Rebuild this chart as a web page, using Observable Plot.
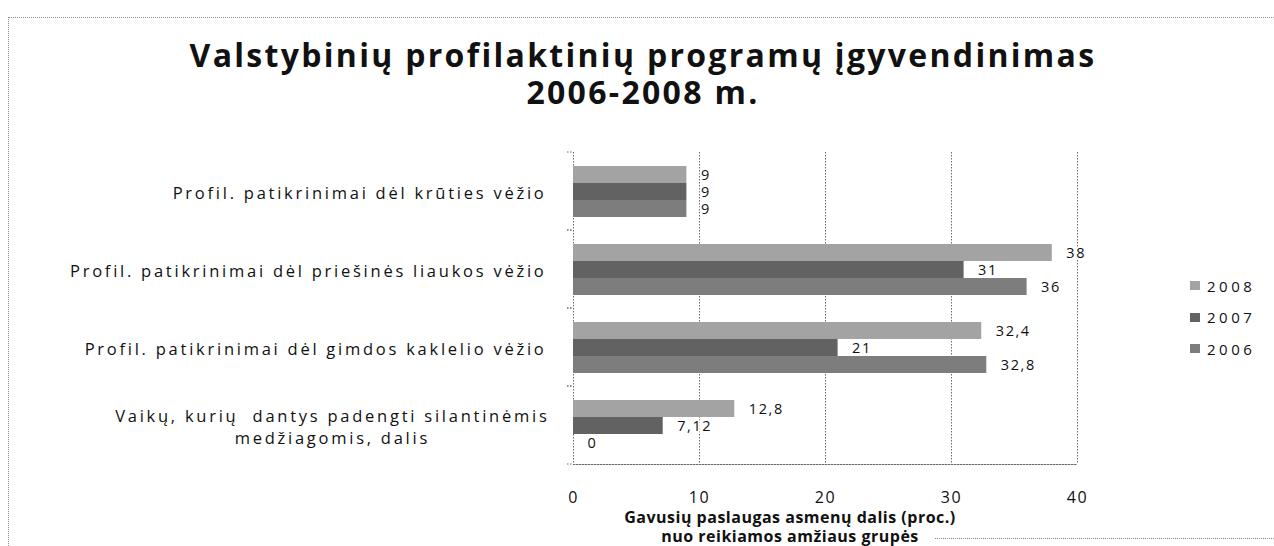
<!DOCTYPE html>
<html><head><meta charset="utf-8">
<script src="https://cdn.jsdelivr.net/npm/d3@7"></script>
<script src="https://cdn.jsdelivr.net/npm/@observablehq/plot@0.6"></script>
<style>
body{margin:0;background:#fff;}
#wrap{position:relative;width:1274px;height:546px;overflow:hidden;font-family:"Open Sans",sans-serif;color:#111;}
.t{position:absolute;left:0;top:36px;width:1286px;text-align:center;font-weight:700;font-size:32px;letter-spacing:2.3px;line-height:37px;white-space:nowrap;}
.xt{position:absolute;left:590px;top:508px;width:400px;text-align:center;font-weight:700;font-size:16px;letter-spacing:0.5px;line-height:19px;white-space:nowrap;}
#legend{position:absolute;left:1190px;top:270px;font-size:15px;letter-spacing:3.5px;}
#legend div{height:31.5px;line-height:20px;display:flex;align-items:center;}
#legend span.sw{display:inline-block;width:10px;height:9px;margin-right:7px;}
.bd{position:absolute;border-color:#8a8a8a;border-style:dotted;border-width:0;}
#chart{position:absolute;left:0;top:0;}
#chart svg text{letter-spacing:1.6px;}
#chart svg g.fyax text{letter-spacing:2.75px;}
</style></head><body>
<div id="wrap">
  <div class="bd" style="left:8px;top:17px;width:1266px;height:0;border-top-width:1px;"></div>
  <div class="bd" style="left:8px;top:17px;width:0;height:529px;border-left-width:1px;"></div>
  <div class="bd" style="left:935px;top:538px;width:339px;height:0;border-top-width:1px;"></div>
  <div id="chart"></div>
  <div class="t" id="title"></div>
  <div class="xt" id="xtitle"></div>
  <div id="legend"></div>
</div>
<script>
const titleLines = ["Valstybinių profilaktinių programų įgyvendinimas", "2006-2008 m."];
const xTitleLines = ["Gavusių paslaugas asmenų dalis (proc.)", "nuo reikiamos amžiaus grupės"];
const categories = [
  "Profil. patikrinimai dėl krūties vėžio",
  "Profil. patikrinimai dėl priešinės liaukos vėžio",
  "Profil. patikrinimai dėl gimdos kaklelio vėžio",
  "Vaikų, kurių  dantys padengti silantinėmis\nmedžiagomis, dalis"
];
const years = ["2008", "2007", "2006"];
const v2008 = [9, 38, 32.4, 12.8];
const v2007 = [9, 31, 21, 7.12];
const v2006 = [9, 36, 32.8, 0];
const xTicks = [0, 10, 20, 30, 40];
const colors = ["#a3a3a3", "#626262", "#7d7d7d"];

const series = [v2008, v2007, v2006];
const rows = categories.flatMap((c, i) => years.map((y, j) => ({category: c, year: y, value: series[j][i]})));
const fmt = v => String(v).replace(".", ",");

function setLines(id, lines) {
  const el = document.getElementById(id);
  lines.forEach((l, i) => {
    if (i) el.appendChild(document.createElement("br"));
    el.appendChild(document.createTextNode(l));
  });
}
setLines("title", titleLines);
setLines("xtitle", xTitleLines);

const leg = document.getElementById("legend");
years.forEach((y, j) => {
  const d = document.createElement("div");
  const s = document.createElement("span"); s.className = "sw"; s.style.background = colors[j];
  d.appendChild(s); d.appendChild(document.createTextNode(y)); leg.appendChild(d);
});

const dotted = {stroke: "#6a6a6a", strokeDasharray: "1.5,1.5", strokeWidth: 1};

function build(withTicks) {
  const marks = [
    Plot.gridX(xTicks.slice(1), {...dotted, strokeOpacity: 1}),
    Plot.ruleX([0], dotted),
    Plot.barX(rows, {fy: "category", y: "year", x: "value", fill: "year"}),
    Plot.text(rows, {fy: "category", y: "year", x: "value", text: d => fmt(d.value), textAnchor: "start", dx: 14, fill: "#111", stroke: "white", strokeWidth: 4, fontSize: 14.5}),
    Plot.axisX(xTicks, {tickSize: 0, tickPadding: 27, fontSize: 16, label: null, fill: "#111"}),
    Plot.axisFy({anchor: "left", tickSize: 0, tickPadding: 27, fontSize: 16.5, lineHeight: 1.35, label: null, fill: "#111", className: "fyax"}),
    Plot.frame({anchor: "bottom", facetAnchor: "bottom", ...dotted})
  ];
  if (withTicks) {
    marks.push(Plot.frame({stroke: "none", render: (index, scales, values, dims) => {
      const g = d3.create("svg:g");
      g.append("line").attr("x1", dims.marginLeft - 6).attr("x2", dims.marginLeft)
        .attr("y1", dims.marginTop).attr("y2", dims.marginTop).attr("stroke", "#6a6a6a").attr("stroke-dasharray", "1.5,1.5");
      g.append("line").attr("x1", dims.marginLeft - 6).attr("x2", dims.marginLeft)
        .attr("y1", dims.height - dims.marginBottom).attr("y2", dims.height - dims.marginBottom).attr("stroke", "#6a6a6a").attr("stroke-dasharray", "1.5,1.5");
      return g.node();
    }}));
  }
  return Plot.plot({
    width: 1274, height: 546,
    marginTop: 150, marginBottom: 81, marginLeft: 573, marginRight: 197,
    style: {fontFamily: "Open Sans", fontSize: "15px", color: "#111", background: "transparent"},
    x: {domain: [0, 40]},
    fy: {domain: categories, padding: 0},
    y: {domain: years, paddingInner: 0, paddingOuter: 0.73, axis: null},
    color: {domain: years, range: colors},
    marks
  });
}
let chart;
try { chart = build(true); } catch (e) { chart = build(false); }
document.getElementById("chart").appendChild(chart);

// center multi-line category labels as a block (right edge kept)
chart.querySelectorAll("text").forEach(t => {
  const spans = t.querySelectorAll("tspan");
  if (spans.length > 1) {
    const bb = t.getBBox();
    const cx = bb.x + bb.width / 2;
    t.setAttribute("text-anchor", "middle");
    spans.forEach(s => s.setAttribute("x", cx + 3));
  }
});
</script>
</body></html>
